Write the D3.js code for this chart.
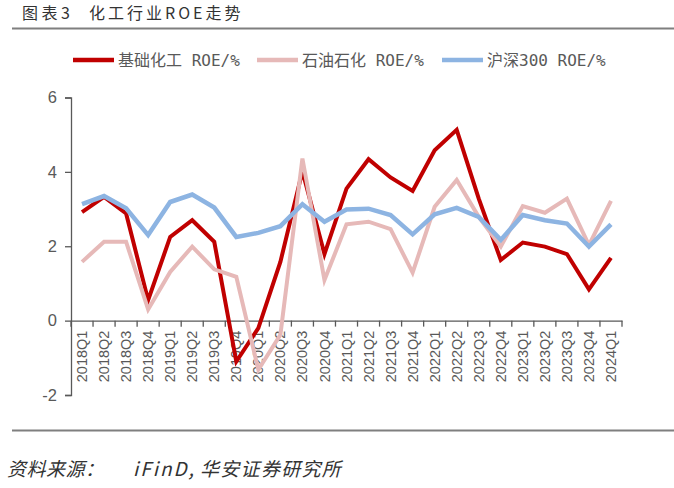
<!DOCTYPE html>
<html><head><meta charset="utf-8">
<script src="https://cdn.jsdelivr.net/npm/d3@7"></script>
<style>body{margin:0;background:#fff}svg{display:block}</style>
</head><body>
<script>
const categories = ["2018Q1","2018Q2","2018Q3","2018Q4","2019Q1","2019Q2","2019Q3","2019Q4","2020Q1","2020Q2","2020Q3","2020Q4","2021Q1","2021Q2","2021Q3","2021Q4","2022Q1","2022Q2","2022Q3","2022Q4","2023Q1","2023Q2","2023Q3","2023Q4","2024Q1"];
const basicChem = [2.92,3.33,2.88,0.55,2.25,2.70,2.12,-1.10,-0.20,1.58,4.02,1.79,3.55,4.34,3.85,3.49,4.58,5.13,3.28,1.63,2.10,1.99,1.79,0.84,1.69];
const petroChem = [1.58,2.12,2.12,0.30,1.31,1.99,1.38,1.18,-1.32,-0.38,4.36,1.09,2.59,2.66,2.46,1.29,3.06,3.78,2.79,1.99,3.08,2.90,3.28,2.03,3.22];
const csi300 = [3.13,3.35,3.02,2.30,3.19,3.39,3.04,2.25,2.36,2.54,3.13,2.66,2.99,3.01,2.84,2.32,2.86,3.03,2.79,2.17,2.84,2.70,2.61,1.99,2.59];
const yTicks = [-2,0,2,4,6];
const seriesNames = ["基础化工 ROE/%","石油石化 ROE/%","沪深300 ROE/%"];
const seriesColors = ["#C00000","#E6B9B8","#8DB4E2"];

const W=674,H=488;
const svg=d3.select("body").append("svg").attr("width",W).attr("height",H);
const txt="#595959";

// title
svg.append("text").attr("x",22).attr("y",19).attr("font-family","'Noto Sans CJK SC'").attr("font-size",16).attr("letter-spacing",3.5).attr("fill","#333").text("图表3");
svg.append("text").attr("x",89).attr("y",19).attr("font-family","'Noto Sans CJK SC'").attr("font-size",16).attr("letter-spacing",3).attr("fill","#333").text("化工行业ROE走势");
svg.append("line").attr("x1",12).attr("x2",674).attr("y1",28.5).attr("y2",28.5).attr("stroke","#7f7f7f").attr("stroke-width",2);

const x=d3.scaleBand().domain(categories).range([71,622]);
const y=d3.scaleLinear().domain([-2,6]).range([395,97.5]);

// y axis
const ya=svg.append("g").attr("transform","translate(71,0)").call(d3.axisLeft(y).tickValues(yTicks).tickSize(6).tickPadding(8).tickFormat(d=>String(d)));
ya.select(".domain").attr("stroke","#595959").attr("stroke-width",1.3);
ya.selectAll(".tick line").attr("stroke","#595959").attr("stroke-width",1.3);
ya.selectAll("text").attr("font-family","'Liberation Sans',Arial").attr("font-size",16.5).attr("fill",txt);

// x axis at 0
const xa=svg.append("g").attr("transform",`translate(0,${y(0)})`).call(d3.axisBottom(x).tickSize(0).tickFormat(d=>d));
xa.select(".domain").attr("stroke","#595959").attr("stroke-width",1.3);
xa.selectAll(".tick text").attr("font-family","'Liberation Sans',Arial").attr("font-size",14.5).attr("fill",txt)
  .attr("transform","rotate(-90)").attr("text-anchor","end").attr("dy","0.35em").attr("x",-10).attr("y",0);
// boundary ticks
const bounds=categories.map(c=>x(c)).concat([x.range()[1]]);
svg.append("g").selectAll("line").data(bounds).join("line")
  .attr("x1",d=>d).attr("x2",d=>d).attr("y1",y(0)).attr("y2",y(0)+6)
  .attr("stroke","#595959").attr("stroke-width",1.3);

// lines
const all=[basicChem,petroChem,csi300];
const widths=[4,4,4.5];
const line=d3.line().x((d,i)=>x(categories[i])+x.bandwidth()/2).y(d=>y(d));
all.forEach((s,k)=>{
  svg.append("path").datum(s).attr("d",line).attr("fill","none").attr("stroke",seriesColors[k]).attr("stroke-width",widths[k]).attr("stroke-linejoin","miter");
});

// legend
const legX=[73,257,442];
seriesNames.forEach((n,k)=>{
  svg.append("line").attr("x1",legX[k]).attr("x2",legX[k]+41).attr("y1",60).attr("y2",60).attr("stroke",seriesColors[k]).attr("stroke-width",4.5);
  svg.append("text").attr("x",legX[k]+45).attr("y",66).attr("font-family","'DejaVu Sans Mono','Noto Sans CJK SC'").attr("font-size",16).attr("fill",txt).attr("xml:space","preserve").text(n);
});

// bottom
svg.append("line").attr("x1",12).attr("x2",674).attr("y1",430.5).attr("y2",430.5).attr("stroke","#7f7f7f").attr("stroke-width",2);
const src=svg.append("text").attr("y",476).attr("font-family","'Noto Sans CJK SC'").attr("font-size",19).attr("font-style","italic").attr("fill","#333");
src.append("tspan").attr("x",7).attr("letter-spacing",0.5).text("资料来源：");
src.append("tspan").attr("x",133).attr("letter-spacing",2).text("iFinD,");
src.append("tspan").attr("x",200).attr("letter-spacing",1.3).text("华安证券研究所");
</script>
</body></html>
